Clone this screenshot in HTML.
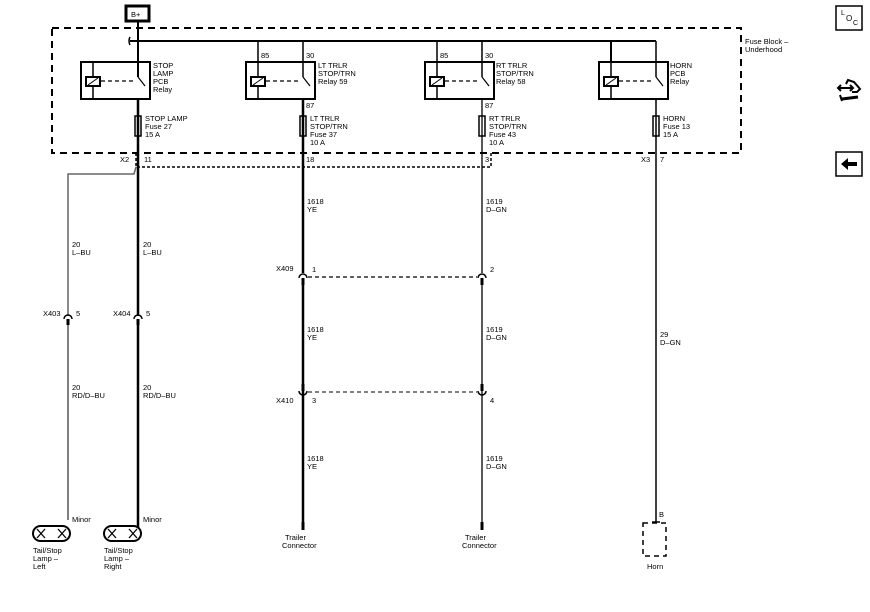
<!DOCTYPE html>
<html><head><meta charset="utf-8"><style>
html,body{margin:0;padding:0;background:#fff;}
svg{display:block;}
text{font-family:"Liberation Sans",sans-serif;font-size:7.5px;fill:#000;}
</style></head><body>
<svg width="870" height="612" viewBox="0 0 870 612" xmlns="http://www.w3.org/2000/svg">
<defs>
<g id="relay">
  <rect x="81" y="62" width="69" height="37" fill="none" stroke="#000" stroke-width="2"/>
  <line x1="93" y1="62" x2="93" y2="99" stroke="#000" stroke-width="1.5"/>
  <rect x="86" y="77" width="14" height="9" fill="#fff" stroke="#000" stroke-width="2"/>
  <line x1="88" y1="85" x2="98" y2="78" stroke="#000" stroke-width="1"/>
  <line x1="101" y1="81" x2="136" y2="81" stroke="#000" stroke-width="1.2" stroke-dasharray="4,3"/>
  <line x1="138" y1="77" x2="145" y2="86" stroke="#000" stroke-width="1.2"/>
</g>
</defs>
<!-- B+ -->
<rect x="126" y="6" width="23" height="15" fill="#fff" stroke="#000" stroke-width="3"/>
<text x="131" y="17">B+</text>
<!-- Fuse block dashed -->
<rect x="52" y="28" width="689" height="125" fill="none" stroke="#000" stroke-width="2" stroke-dasharray="7,5"/>
<text x="745" y="44">Fuse Block –</text>
<text x="745" y="52">Underhood</text>
<!-- bus -->
<line x1="130" y1="41" x2="656" y2="41" stroke="#000" stroke-width="2"/>
<path d="M130 37 Q128 41 130 45" fill="none" stroke="#000" stroke-width="1.5"/>
<line x1="138" y1="22" x2="138" y2="77" stroke="#000" stroke-width="2"/>
<!-- relays -->
<use href="#relay"/>
<use href="#relay" x="165"/>
<use href="#relay" x="344"/>
<use href="#relay" x="518"/>
<line x1="258" y1="41" x2="258" y2="62" stroke="#000" stroke-width="1.5"/>
<line x1="303" y1="41" x2="303" y2="77" stroke="#000" stroke-width="1.5"/>
<line x1="437" y1="41" x2="437" y2="62" stroke="#000" stroke-width="1.5"/>
<line x1="482" y1="41" x2="482" y2="77" stroke="#000" stroke-width="1.5"/>
<line x1="611" y1="41" x2="611" y2="62" stroke="#000" stroke-width="2"/>
<line x1="656" y1="41" x2="656" y2="77" stroke="#000" stroke-width="1.5"/>
<text x="153" y="68">STOP</text><text x="153" y="76">LAMP</text><text x="153" y="84">PCB</text><text x="153" y="92">Relay</text>
<text x="318" y="68">LT TRLR</text><text x="318" y="76">STOP/TRN</text><text x="318" y="84">Relay 59</text>
<text x="496" y="68">RT TRLR</text><text x="496" y="76">STOP/TRN</text><text x="496" y="84">Relay 58</text>
<text x="670" y="68">HORN</text><text x="670" y="76">PCB</text><text x="670" y="84">Relay</text>
<text x="261" y="58">85</text><text x="306" y="58">30</text>
<text x="440" y="58">85</text><text x="485" y="58">30</text>
<text x="306" y="108">87</text><text x="485" y="108">87</text>
<!-- fuses -->
<g fill="#fff" stroke="#000" stroke-width="1.5">
<rect x="135" y="116" width="6" height="20"/><rect x="300" y="116" width="6" height="20"/>
<rect x="479" y="116" width="6" height="20"/><rect x="653" y="116" width="6" height="20"/>
</g>
<text x="145" y="121">STOP LAMP</text><text x="145" y="129">Fuse 27</text><text x="145" y="137">15 A</text>
<text x="310" y="121">LT TRLR</text><text x="310" y="129">STOP/TRN</text><text x="310" y="137">Fuse 37</text><text x="310" y="145">10 A</text>
<text x="489" y="121">RT TRLR</text><text x="489" y="129">STOP/TRN</text><text x="489" y="137">Fuse 43</text><text x="489" y="145">10 A</text>
<text x="663" y="121">HORN</text><text x="663" y="129">Fuse 13</text><text x="663" y="137">15 A</text>
<!-- X2 connector dotted -->
<path d="M136 153 L136 167 L491 167 L491 153" fill="none" stroke="#000" stroke-width="1.5" stroke-dasharray="3,2"/>
<text x="120" y="162">X2</text><text x="144" y="162">11</text>
<text x="306" y="162">18</text><text x="485" y="162">3</text>
<text x="641" y="162">X3</text><text x="660" y="162">7</text>
<!-- wires -->
<path d="M136 167 L134 174 L68 174 L68 316" fill="none" stroke="#666" stroke-width="1.5"/>
<line x1="68" y1="322" x2="68" y2="520" stroke="#555" stroke-width="1.5"/>
<line x1="138" y1="99" x2="138" y2="316" stroke="#000" stroke-width="2.5"/>
<line x1="138" y1="322" x2="138" y2="528" stroke="#000" stroke-width="2.5"/>
<line x1="303" y1="99" x2="303" y2="273" stroke="#000" stroke-width="2.5"/>
<line x1="303" y1="279" x2="303" y2="395" stroke="#000" stroke-width="2.5"/>
<line x1="303" y1="395" x2="303" y2="523" stroke="#000" stroke-width="2.5"/>
<rect x="301.5" y="522" width="3" height="8" fill="#000"/>
<line x1="482" y1="99" x2="482" y2="273" stroke="#000" stroke-width="1.3"/>
<line x1="482" y1="279" x2="482" y2="523" stroke="#000" stroke-width="1.3"/>
<rect x="480.5" y="522" width="3" height="8" fill="#000"/>
<line x1="656" y1="99" x2="656" y2="522" stroke="#000" stroke-width="1.5"/>
<!-- connectors female arcs -->
<g fill="none" stroke="#000" stroke-width="1.5">
<path d="M64 319 A4 4 0 0 1 72 319"/><path d="M134 319 A4 4 0 0 1 142 319"/>
<path d="M299 278 A4 4 0 0 1 307 278"/><path d="M478 278 A4 4 0 0 1 486 278"/>
<path d="M299 391 A4 4 0 0 0 307 391"/><path d="M478 391 A4 4 0 0 0 486 391"/>
</g>
<g fill="#000">
<rect x="66.5" y="319" width="3" height="6"/><rect x="136.5" y="319" width="3" height="6"/>
<rect x="301.5" y="278" width="3" height="7"/><rect x="480.5" y="278" width="3" height="7"/>
<rect x="301.5" y="384" width="3" height="7"/><rect x="480.5" y="384" width="3" height="7"/>
</g>
<line x1="308" y1="277" x2="477" y2="277" stroke="#000" stroke-width="1.3" stroke-dasharray="4,3"/>
<line x1="308" y1="392" x2="477" y2="392" stroke="#000" stroke-width="1" stroke-dasharray="4,3"/>
<text x="43" y="316">X403</text><text x="76" y="316">5</text>
<text x="113" y="316">X404</text><text x="146" y="316">5</text>
<text x="276" y="271">X409</text><text x="312" y="272">1</text><text x="490" y="272">2</text>
<text x="276" y="403">X410</text><text x="312" y="403">3</text><text x="490" y="403">4</text>
<!-- wire labels -->
<text x="72" y="247">20</text><text x="72" y="255">L–BU</text>
<text x="143" y="247">20</text><text x="143" y="255">L–BU</text>
<text x="72" y="390">20</text><text x="72" y="398">RD/D–BU</text>
<text x="143" y="390">20</text><text x="143" y="398">RD/D–BU</text>
<text x="307" y="204">1618</text><text x="307" y="212">YE</text>
<text x="486" y="204">1619</text><text x="486" y="212">D–GN</text>
<text x="307" y="332">1618</text><text x="307" y="340">YE</text>
<text x="486" y="332">1619</text><text x="486" y="340">D–GN</text>
<text x="307" y="461">1618</text><text x="307" y="469">YE</text>
<text x="486" y="461">1619</text><text x="486" y="469">D–GN</text>
<text x="660" y="337">29</text><text x="660" y="345">D–GN</text>
<!-- lamps -->
<g fill="none" stroke="#000" stroke-width="2">
<rect x="33" y="526" width="37" height="15" rx="7.5"/>
<rect x="104" y="526" width="37" height="15" rx="7.5"/>
</g>
<g stroke="#000" stroke-width="1.3">
<line x1="37" y1="529" x2="45" y2="538"/><line x1="45" y1="529" x2="37" y2="538"/>
<line x1="58" y1="529" x2="66" y2="538"/><line x1="66" y1="529" x2="58" y2="538"/>
<line x1="108" y1="529" x2="116" y2="538"/><line x1="116" y1="529" x2="108" y2="538"/>
<line x1="129" y1="529" x2="137" y2="538"/><line x1="137" y1="529" x2="129" y2="538"/>
</g>
<text x="72" y="522">Minor</text><text x="143" y="522">Minor</text>
<text x="33" y="553">Tail/Stop</text><text x="33" y="561">Lamp –</text><text x="33" y="569">Left</text>
<text x="104" y="553">Tail/Stop</text><text x="104" y="561">Lamp –</text><text x="104" y="569">Right</text>
<text x="285" y="540">Trailer</text><text x="282" y="548">Connector</text>
<text x="465" y="540">Trailer</text><text x="462" y="548">Connector</text>
<!-- horn -->
<rect x="643" y="523" width="23" height="33" fill="none" stroke="#000" stroke-width="1.5" stroke-dasharray="5,4"/>
<line x1="652" y1="522" x2="660" y2="522" stroke="#000" stroke-width="1.5"/>
<text x="659" y="517">B</text><text x="647" y="569">Horn</text>
<!-- right icons -->
<rect x="836" y="6" width="26" height="24" fill="#fff" stroke="#000" stroke-width="1.5"/>
<text x="841" y="15" style="font-size:7px">L</text><text x="846" y="21" style="font-size:8px">O</text><text x="853" y="25" style="font-size:7px">C</text>
<g stroke="#000" fill="none" stroke-width="2">
<line x1="839" y1="88" x2="852" y2="88"/>
<path d="M841 85 L838 88 L841 91" />
<path d="M850 85 L853 88 L850 91"/>
<path d="M846 84 L848 80 L854 82 L860 89 L857 92 L852 92"/>
<line x1="842" y1="99" x2="858" y2="97" stroke-width="3"/>
<path d="M840 95 L842 101"/>
</g>
<rect x="836" y="152" width="26" height="24" fill="#fff" stroke="#000" stroke-width="1.5"/>
<path d="M841 164 L848 158 L848 162 L857 162 L857 166 L848 166 L848 170 Z" fill="#000"/>
</svg>
</body></html>
